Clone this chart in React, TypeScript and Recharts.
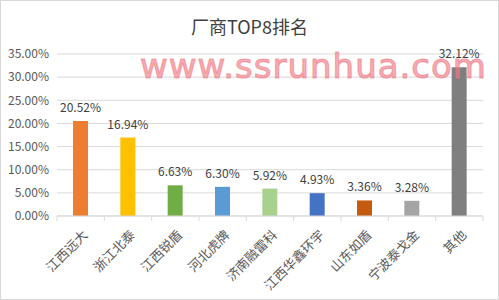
import { BarChart, Bar, XAxis, YAxis, CartesianGrid, LabelList, Cell } from 'recharts'

const makers = ['江西远大', '浙江北泰', '江西锐盾', '河北虎牌', '济南融雷科', '江西华鑫环宇', '山东如盾', '宁波泰戈金', '其他']
const shares = [20.52, 16.94, 6.63, 6.3, 5.92, 4.93, 3.36, 3.28, 32.12]
const barColors = ['#ED7D31', '#FFC000', '#70AD47', '#5B9BD5', '#A9D18E', '#4472C4', '#C55A11', '#A5A5A5', '#7F7F7F']
const yTicks = [0, 5, 10, 15, 20, 25, 30, 35]

const data = makers.map((name, i) => ({ name, share: shares[i] }))

const fmt = (v: number) => `${Number(v).toFixed(2)}%`

function MakerTick(props: any) {
  const { x, y, payload } = props
  const half = payload?.offset || 23.6
  const last = payload?.index === makers.length - 1
  return (
    <g>
      <line x1={x - half} y1={y - 8} x2={x - half} y2={y - 3} stroke="#d9d9d9" />
      {last && <line x1={x + half} y1={y - 8} x2={x + half} y2={y - 3} stroke="#d9d9d9" />}
      <text
        x={x + 4}
        y={y + 8}
        transform={`rotate(-45 ${x + 4} ${y + 8})`}
        textAnchor="end"
        dominantBaseline="central"
        fontSize={13}
        fill="#595959"
      >
        {payload.value}
      </text>
    </g>
  )
}

export default function App() {
  return (
    <div
      style={{
        position: 'absolute',
        left: 0,
        top: 0,
        width: 499,
        height: 300,
        boxSizing: 'border-box',
        border: '1px solid #d9d9d9',
        background: '#fff',
        fontFamily: '"Noto Sans CJK SC", "Noto Sans", sans-serif',
      }}
    >
      <div
        style={{
          position: 'absolute',
          top: 10,
          left: 0,
          width: 497,
          textAlign: 'center',
          fontSize: 18,
          color: '#404040',
          lineHeight: '30px',
        }}
      >
        厂商TOP8排名
      </div>
      <div style={{ position: 'absolute', left: -1, top: -1 }}>
        <BarChart
          width={499}
          height={300}
          data={data}
          margin={{ top: 54, right: 16, left: 0, bottom: 0 }}
          style={{ fontFamily: '"Noto Sans CJK SC", "Noto Sans", sans-serif' }}
        >
          <CartesianGrid vertical={false} stroke="#d9d9d9" />
          <XAxis
            dataKey="name"
            interval={0}
            height={84}
            axisLine={{ stroke: '#d9d9d9' }}
            tickLine={false}
            tick={<MakerTick />}
          />
          <YAxis
            width={57}
            domain={[0, 35]}
            ticks={yTicks}
            tickFormatter={fmt}
            axisLine={false}
            tickLine={false}
            tick={{ fontSize: 12, fill: '#595959' }}
          />
          <Bar dataKey="share" barSize={15} isAnimationActive={false}>
            {data.map((d, i) => (
              <Cell key={d.name} fill={barColors[i]} />
            ))}
            <LabelList dataKey="share" position="top" offset={9} formatter={fmt} fontSize={12} fill="#404040" />
          </Bar>
        </BarChart>
      </div>
      <div
        style={{
          position: 'absolute',
          top: 53,
          left: 139,
          fontFamily: '"DejaVu Sans", sans-serif',
          fontSize: 34,
          letterSpacing: 1,
          color: 'rgba(240, 120, 130, 0.6)',
          WebkitTextStroke: '1.2px rgba(240, 120, 130, 0.6)',
          lineHeight: '24px',
          pointerEvents: 'none',
        }}
      >
        www.ssrunhua.com
      </div>
    </div>
  )
}
